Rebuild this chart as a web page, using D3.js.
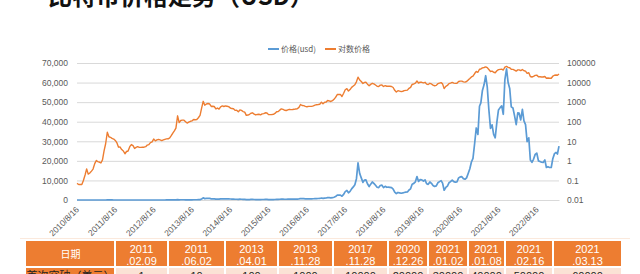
<!DOCTYPE html>
<html>
<head>
<meta charset="utf-8">
<script src="https://cdn.jsdelivr.net/npm/d3@7"></script>
<style>
body { margin: 0; background: #fff; }
svg { display: block; font-family: "Noto Sans CJK SC", "Noto Sans", sans-serif; }
</style>
</head>
<body>
<svg id="chart" width="640" height="274"></svg>
<script>
// bitcoin price, sampled on the 1st and 16th of each month (usd)
var p2010 = [0.07, 0.062, 0.062, 0.062, 0.10, 0.19, 0.39, 0.21, 0.24]; // from 8/16
var p2011 = [0.30, 0.38, 0.72, 1.05, 0.92, 0.87, 0.78, 1.12, 3.2, 7.5, 29, 17,
             16, 14, 13, 11, 8.2, 5.0, 5.1, 3.8, 3.2, 2.3, 3.0, 3.2];
var p2012 = [5.3, 6.8, 6.0, 4.3, 4.9, 5.3, 4.9, 4.9, 5.0, 5.0, 5.3, 6.4,
             6.7, 8.5, 9.3, 13, 10.5, 11.8, 12.4, 11.7, 10.8, 11.8, 12.6, 13.3];
var p2013 = [13.4, 15, 20, 27, 34, 47, 200, 90, 115, 120, 120, 100,
             85, 95, 105, 110, 130, 127, 130, 160, 210, 500, 1100, 700];
var p2014 = [800, 850, 800, 600, 620, 600, 450, 500, 440, 580, 640, 600,
             640, 620, 590, 500, 470, 460, 380, 390, 320, 400, 380, 330];
var p2015 = [310, 210, 220, 240, 270, 285, 245, 222, 235, 240, 225, 250,
             260, 285, 280, 230, 230, 232, 238, 265, 325, 330, 390, 455];
var p2016 = [430, 385, 375, 405, 430, 415, 420, 430, 450, 455, 540, 760,
             675, 665, 610, 580, 610, 610, 610, 640, 700, 740, 755, 780];
var p2017 = [1000, 830, 990, 1010, 1220, 1170, 1080, 1180, 1420, 1750, 2450, 2450,
             2500, 1950, 2850, 4300, 4900, 3700, 4400, 5700, 6700, 7800, 10900, 19000];
var p2018 = [13500, 11300, 9000, 10200, 10300, 8300, 6900, 8100, 9200, 8500, 7500, 6500,
             6350, 7400, 7600, 6300, 7000, 6500, 6600, 6450, 6300, 5600, 4000, 3300];
var p2019 = [3850, 3650, 3450, 3600, 3850, 4000, 4100, 5100, 5700, 8100, 8500, 9300,
             12000, 9500, 10400, 10300, 9700, 10300, 8300, 8000, 9200, 8500, 7400, 6900];
var p2020 = [7200, 8800, 9400, 9900, 8600, 5000, 6400, 7100, 8800, 9400, 10200, 9400,
             9100, 9200, 11300, 11800, 11900, 10900, 10600, 11300, 13700, 16000, 19400, 21300];
var p2021 = [29000, 36800, 33500, 47900, 49600, 56000, 59000, 63500, 57800, 46400, 36600, 38400,
             33500, 31800, 39900, 46000, 47200, 48100, 43800, 61500, 67000, 60000, 57000, 47600];
var p2022 = [47000, 43100, 38500, 44500, 44400, 40900, 46300, 40400, 38500, 29800, 31800, 20400,
             19300, 20800, 23300, 24000, 20000, 19700, 19300, 19200, 20500, 16600, 17000, 16600];
var p2023 = [16600, 21100, 23700, 24300, 23500, 27500]; // to 3/16

var years = [2010, 2011, 2012, 2013, 2014, 2015, 2016, 2017, 2018, 2019, 2020, 2021, 2022, 2023];
var priceRows = [p2010, p2011, p2012, p2013, p2014, p2015, p2016, p2017, p2018, p2019, p2020, p2021, p2022, p2023];

var leftTicks = [0, 10000, 20000, 30000, 40000, 50000, 60000, 70000];
var rightTicks = [0.01, 0.1, 1, 10, 100, 1000, 10000, 100000];
var xTickYears = [2010, 2011, 2012, 2013, 2014, 2015, 2016, 2017, 2018, 2019, 2020, 2021, 2022];
var seriesNames = ["价格(usd)", "对数价格"];

// table under the chart
var tableHead = "日期";
var tableRowHead = "首次突破（美元）";
var tableYears = ["2011", "2011", "2013", "2013", "2017", "2020", "2021", "2021", "2021", "2021"];
var tableDays = [".02.09", ".06.02", ".04.01", ".11.28", ".11.28", ".12.26", ".01.02", ".01.08", ".02.16", ".03.13"];
var milestones = ["1", "10", "100", "1000", "10000", "20000", "30000", "40000", "50000", "60000"];

// build the dated series
var data = [];
priceRows.forEach(function(row, r) {
    var offset = years[r] === 2010 ? 24 - row.length : 0;
    row.forEach(function(v, i) {
        var k = i + offset;
        data.push({ date: new Date(years[r], Math.floor(k / 2), k % 2 ? 16 : 1), v: v });
    });
});

var blue = "#5b9bd5", orange = "#ed7d31", grid = "#d9d9d9", txt = "#595959";
var plot = { left: 77, right: 559, top: 63, bottom: 200 };

var svg = d3.select("#chart");

// title (cut by the top edge)
svg.append("text")
    .attr("x", 48).attr("y", 5)
    .style("font-size", "24px").style("font-weight", "bold").style("fill", "#111")
    .text("比特币价格走势（USD）");

var x = d3.scaleTime().domain(d3.extent(data, function(d) { return d.date; }))
    .range([plot.left, plot.right]);
var yLin = d3.scaleLinear().domain([0, 70000]).range([plot.bottom, plot.top]);
var yLog = d3.scaleLog().domain([0.01, 100000]).range([plot.bottom, plot.top]);

// left axis + gridlines
var gl = svg.append("g")
    .attr("transform", "translate(" + plot.left + ",0)")
    .call(d3.axisLeft(yLin).tickValues(leftTicks).tickSize(-(plot.right - plot.left))
        .tickPadding(9).tickFormat(d3.format(",")));
gl.select(".domain").remove();
gl.selectAll("line").attr("stroke", grid).attr("stroke-width", 1);
gl.selectAll("text").style("font-size", "8.5px").style("fill", txt)
    .style("font-family", "'Liberation Sans', sans-serif");

// right axis (log)
var gr = svg.append("g")
    .attr("transform", "translate(" + plot.right + ",0)")
    .call(d3.axisRight(yLog).tickValues(rightTicks).tickSize(0).tickPadding(8)
        .tickFormat(function(d) { return String(d); }));
gr.select(".domain").remove();
gr.selectAll("text").style("font-size", "8.5px").style("fill", txt)
    .style("font-family", "'Liberation Sans', sans-serif");

// x axis
var gx = svg.append("g")
    .attr("transform", "translate(0," + plot.bottom + ")")
    .call(d3.axisBottom(x)
        .tickValues(xTickYears.map(function(y) { return new Date(y, 7, 16); }))
        .tickSize(0).tickFormat(d3.timeFormat("%Y/%-m/%-d")));
gx.select(".domain").attr("stroke", grid);
gx.selectAll("text")
    .attr("y", 0).attr("dy", "0.35em")
    .attr("transform", "translate(0,8) rotate(-45)")
    .style("text-anchor", "end")
    .style("font-size", "8.5px").style("fill", txt)
    .style("font-family", "'Liberation Sans', sans-serif");

// lines
var logLine = d3.line()
    .x(function(d) { return x(d.date); })
    .y(function(d) { return yLog(d.v); });
var linLine = d3.line()
    .x(function(d) { return x(d.date); })
    .y(function(d) { return yLin(d.v); });

svg.append("path").datum(data)
    .attr("d", logLine).attr("fill", "none")
    .attr("stroke", orange).attr("stroke-width", 1.4).attr("stroke-linejoin", "round");
svg.append("path").datum(data)
    .attr("d", linLine).attr("fill", "none")
    .attr("stroke", blue).attr("stroke-width", 1.7).attr("stroke-linejoin", "round");

// legend
var legX = [268, 325];
var leg = svg.append("g").selectAll("g").data(seriesNames).enter().append("g")
    .attr("transform", function(d, i) { return "translate(" + legX[i] + ",49)"; });
leg.append("line").attr("x1", 0).attr("x2", 11).attr("y1", 0).attr("y2", 0)
    .attr("stroke", function(d, i) { return i ? orange : blue; }).attr("stroke-width", 2);
leg.append("text").attr("x", 13).attr("dy", "0.35em")
    .style("font-size", "8px").style("fill", txt).text(function(d) { return d; });

// faint divider above table
svg.append("line").attr("x1", 20).attr("x2", 630).attr("y1", 238.5).attr("y2", 238.5)
    .attr("stroke", "#fbe9dc").attr("stroke-width", 1);

// table
var colEdges = [26, 115, 168, 225, 278, 333, 388, 428, 468, 505, 553, 622];
var headTop = 241, headBot = 266, rowTop = 268;
var tbl = svg.append("g");

tbl.selectAll("rect.head").data(d3.range(colEdges.length - 1)).enter().append("rect")
    .attr("x", function(i) { return colEdges[i] + (i ? 1 : 0); })
    .attr("y", headTop)
    .attr("width", function(i) { return colEdges[i + 1] - colEdges[i] - (i ? 2 : 1); })
    .attr("height", headBot - headTop)
    .attr("fill", orange);

tbl.selectAll("rect.row").data(d3.range(colEdges.length - 1)).enter().append("rect")
    .attr("x", function(i) { return colEdges[i] + (i ? 1 : 0); })
    .attr("y", rowTop)
    .attr("width", function(i) { return colEdges[i + 1] - colEdges[i] - (i ? 2 : 1); })
    .attr("height", 20)
    .attr("fill", function(i) { return i ? "#fbe2d5" : orange; });

function colMid(i) { return (colEdges[i] + colEdges[i + 1]) / 2; }

tbl.append("text").attr("x", colMid(0)).attr("y", 258)
    .attr("text-anchor", "middle").style("font-size", "10px").style("fill", "#fff")
    .text(tableHead);
tbl.append("text").attr("x", colMid(0)).attr("y", 280)
    .attr("text-anchor", "middle").style("font-size", "11px").style("fill", "#222")
    .text(tableRowHead);

tbl.selectAll("text.y").data(tableYears).enter().append("text")
    .attr("x", function(d, i) { return colMid(i + 1); }).attr("y", 252.5)
    .attr("text-anchor", "middle").style("font-size", "11px").style("fill", "#fff")
    .style("font-family", "'Liberation Sans', sans-serif")
    .text(function(d) { return d; });
tbl.selectAll("text.d").data(tableDays).enter().append("text")
    .attr("x", function(d, i) { return colMid(i + 1); }).attr("y", 265)
    .attr("text-anchor", "middle").style("font-size", "11px").style("fill", "#fff")
    .style("font-family", "'Liberation Sans', sans-serif")
    .text(function(d) { return d; });
tbl.selectAll("text.m").data(milestones).enter().append("text")
    .attr("x", function(d, i) { return colMid(i + 1); }).attr("y", 280)
    .attr("text-anchor", "middle").style("font-size", "11px").style("fill", "#222")
    .style("font-family", "'Liberation Sans', sans-serif")
    .text(function(d) { return d; });
</script>
</body>
</html>
